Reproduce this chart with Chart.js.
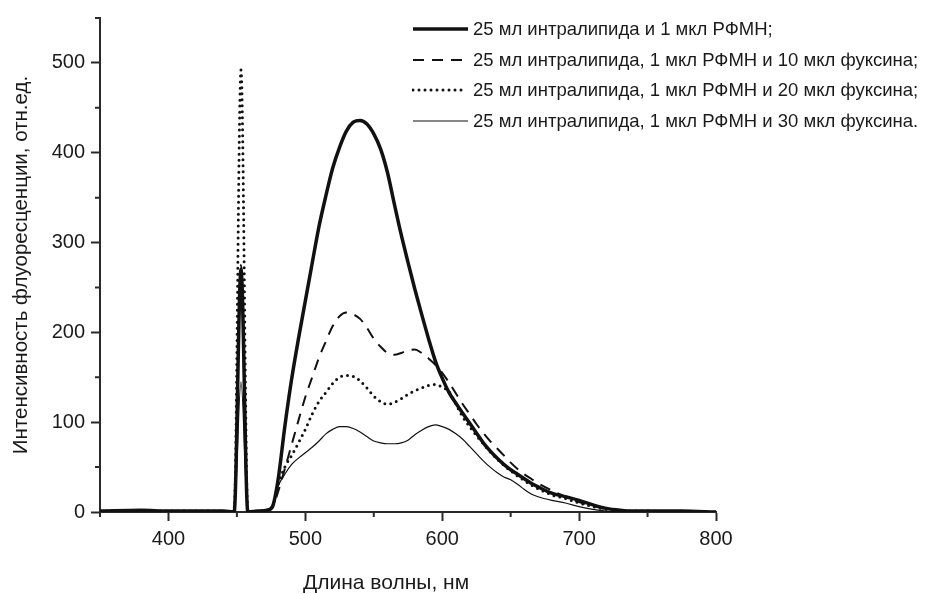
<!DOCTYPE html>
<html>
<head>
<meta charset="utf-8">
<script src="https://cdn.jsdelivr.net/npm/chart.js"></script>
<title>Спектры флуоресценции</title>
<style>
  body { margin: 0; background: #fff; }
  #wrap { position: relative; width: 927px; height: 594px; font-family: "Liberation Sans", Arial, sans-serif; color: #1a1a1a; }
  #legend { position: absolute; left: 412px; top: 14px; font-size: 18.5px; }
  .row { height: 30.5px; display: flex; align-items: center; white-space: nowrap; }
  .row svg { width: 61px; height: 10px; flex: none; }
  #xtitle { position: absolute; left: 303px; top: 570px; font-size: 21px; white-space: nowrap; }
</style>
</head>
<body>
<div id="wrap">
  <canvas id="spectra" width="927" height="594"></canvas>
  <div id="legend"></div>
  <div id="xtitle">Длина волны, нм</div>
</div>

<script>
// wavelength, nm
const wavelength = [350, 380, 400, 420, 440, 448, 453, 458, 465, 472, 476, 480,
  485, 490, 495, 500, 505, 510, 515, 520, 525, 530, 535, 540, 545, 550, 555, 560,
  565, 570, 575, 580, 585, 590, 595, 600, 605, 610, 615, 620, 625, 630, 635, 640,
  645, 650, 655, 660, 665, 670, 680, 690, 700, 710, 720, 730, 740, 750, 775, 800];

const rfmn = [1, 2, 1, 1, 1, 0, 270, 0, 1, 2, 6, 35,
  95, 148, 193, 235, 277, 318, 352, 383, 406, 424, 434, 436, 432, 421, 404, 378,
  343, 309, 278, 248, 220, 193, 168, 149, 133, 121, 110, 99, 88, 77, 68, 60,
  53, 47, 42, 37, 32, 28, 21, 17, 13, 8, 4, 2, 1, 1, 1, 0];

const fuchsin10 = [1, 1, 1, 1, 1, 0, 275, 0, 1, 2, 5, 22,
  48, 75, 102, 128, 150, 172, 190, 207, 218, 222, 220, 215, 205, 193, 184, 177,
  175, 177, 180, 181, 177, 171, 164, 155, 144, 132, 120, 109, 98, 88, 79, 71,
  63, 55, 48, 42, 37, 32, 24, 17, 11, 7, 3, 1, 1, 1, 0, 0];

const fuchsin20 = [1, 1, 1, 1, 1, 0, 492, 0, 1, 2, 6, 30,
  50, 63, 77, 92, 109, 123, 133, 143, 150, 152, 151, 146, 138, 129, 123, 120,
  122, 126, 131, 135, 138, 141, 142, 139, 134, 120, 106, 95, 85, 76, 67, 59,
  52, 46, 40, 35, 30, 26, 19, 15, 10, 6, 3, 1, 1, 1, 0, 0];

const fuchsin30 = [1, 1, 1, 1, 1, 0, 145, 0, 1, 2, 5, 28,
  42, 53, 60, 66, 72, 79, 87, 92, 95, 95, 93, 89, 84, 79, 77, 76,
  76, 77, 80, 86, 91, 95, 97, 95, 92, 87, 81, 73, 65, 57, 50, 44,
  39, 36, 31, 25, 20, 17, 13, 10, 6, 3, 1, 0, 0, 0, 0, 0];

const seriesLabels = [
  '25 мл интралипида и 1 мкл РФМН;',
  '25 мл интралипида, 1 мкл РФМН и 10 мкл фуксина;',
  '25 мл интралипида, 1 мкл РФМН и 20 мкл фуксина;',
  '25 мл интралипида, 1 мкл РФМН и 30 мкл фуксина.'
];

const xTicks = [400, 500, 600, 700, 800];
const xMinor = [350, 450, 550, 650, 750];
const yTicks = [0, 100, 200, 300, 400, 500];
const yMinor = [50, 150, 250, 350, 450, 550];

const axisColor = '#2a2a2a';
const lineColor = '#111';

const styles = [
  { borderWidth: 3.5, borderDash: [] },
  { borderWidth: 2, borderDash: [11, 8] },
  { borderWidth: 3, borderDash: [0, 6], borderCapStyle: 'round' },
  { borderWidth: 1.2, borderDash: [] }
];

const allValues = [rfmn, fuchsin10, fuchsin20, fuchsin30];

const datasets = allValues.map((vals, i) => Object.assign({
  label: seriesLabels[i],
  data: wavelength.map((w, j) => ({ x: w, y: vals[j] })),
  borderColor: lineColor,
  pointRadius: 0,
  fill: false,
  cubicInterpolationMode: 'monotone'
}, styles[i]));

const minorTicks = {
  id: 'minorTicks',
  afterDraw(chart) {
    const ctx = chart.ctx;
    const xs = chart.scales.x, ys = chart.scales.y;
    ctx.save();
    ctx.strokeStyle = axisColor;
    ctx.lineWidth = 2;
    ctx.beginPath();
    xMinor.forEach(v => {
      const px = xs.getPixelForValue(v);
      ctx.moveTo(px, xs.top);
      ctx.lineTo(px, xs.top + 5);
    });
    yMinor.forEach(v => {
      const py = ys.getPixelForValue(v);
      ctx.moveTo(ys.right, py);
      ctx.lineTo(ys.right - 5, py);
    });
    ctx.stroke();
    ctx.restore();
  }
};

Chart.defaults.font.family = '"Liberation Sans", Arial, sans-serif';
Chart.defaults.color = '#1a1a1a';

new Chart(document.getElementById('spectra'), {
  type: 'line',
  data: { datasets: datasets },
  options: {
    responsive: false,
    animation: false,
    devicePixelRatio: 1,
    layout: { padding: { top: 14, right: 211, left: 0, bottom: 0 } },
    plugins: { legend: { display: false }, tooltip: { enabled: false } },
    scales: {
      x: {
        type: 'linear',
        min: 350,
        max: 800,
        afterBuildTicks: s => { s.ticks = xTicks.map(v => ({ value: v })); },
        afterFit: s => { s.height = 82; },
        border: { color: axisColor, width: 2 },
        grid: { drawOnChartArea: false, tickLength: 9, tickWidth: 2, tickColor: axisColor },
        ticks: { font: { size: 20 }, padding: 6, maxRotation: 0 }
      },
      y: {
        type: 'linear',
        min: 0,
        max: 550,
        afterBuildTicks: s => { s.ticks = yTicks.map(v => ({ value: v })); },
        afterFit: s => { s.width = 100; },
        border: { color: axisColor, width: 2 },
        grid: { drawOnChartArea: false, tickLength: 9, tickWidth: 2, tickColor: axisColor },
        ticks: { font: { size: 20 }, padding: 6 },
        title: {
          display: true,
          text: 'Интенсивность флуоресценции, отн.ед.',
          font: { size: 20.5 },
          padding: { top: 9, bottom: 0 }
        }
      }
    }
  },
  plugins: [minorTicks]
});

// legend as html
const legend = document.getElementById('legend');
styles.forEach((st, i) => {
  const row = document.createElement('div');
  row.className = 'row';
  const end = i === 2 ? 51 : 56;
  const dash = st.borderDash.length ? st.borderDash.join(' ') : 'none';
  row.innerHTML = '<svg viewBox="0 0 61 10"><line x1="1" y1="5" x2="' + end + '" y2="5" stroke="' + lineColor +
    '" stroke-width="' + st.borderWidth + '" stroke-dasharray="' + dash + '" stroke-linecap="' +
    (i === 2 ? 'round' : 'butt') + '"/></svg><span>' + seriesLabels[i] + '</span>';
  legend.appendChild(row);
});
</script>
</body>
</html>
